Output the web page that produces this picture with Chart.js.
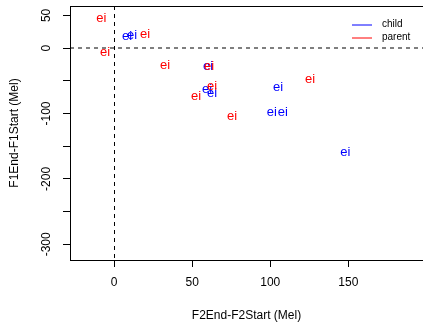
<!DOCTYPE html>
<html>
<head>
<meta charset="utf-8">
<script src="https://cdn.jsdelivr.net/npm/chart.js@4/dist/chart.umd.min.js"></script>
<style>
  body { margin: 0; background: #fff; }
  canvas { display: block; }
</style>
</head>
<body>
<canvas id="plot" width="423" height="323"></canvas>
<script>
// values (Mel)
var childX = [8.3, 11.5, 60.2, 59.5, 62.7, 105, 101, 108, 148];
var childY = [17.5, 19, -28.5, -63.7, -70, -60.6, -99, -99, -160];
var parentX = [-8.2, -5.8, 19.8, 32.6, 60.8, 62.7, 52.5, 75.5, 125.5];
var parentY = [46, -6.5, 21.6, -27, -28.5, -59, -74.5, -105, -48.4];
var pointText = "ei";

var seriesNames = ["child", "parent"];
var seriesColors = ["#0000ff", "#ff0000"];

var xTicks = [0, 50, 100, 150];
var yTicks = [-300, -250, -200, -150, -100, -50, 0, 50];
var yTickLabels = ["-300", "", "-200", "", "-100", "", "0", "50"];
var xRange = [-28.2, 197.8];
var yRange = [-324, 64.4];
var refX = [0];
var refY = [0];

function pts(xs, ys) {
    return xs.map(function (x, i) { return { x: x, y: ys[i] }; });
}

// writes the "ei" label at every point, dashed reference lines, top box line and legend
var textMarks = {
    id: "textMarks",
    beforeDatasetsDraw: function (chart) {
        var c = chart.ctx, a = chart.chartArea;
        var xs = chart.scales.x, ys = chart.scales.y;
        c.save();
        c.strokeStyle = "#000";
        c.lineWidth = 1;
        c.beginPath();
        c.moveTo(a.left, Math.round(a.top) + 0.5);
        c.lineTo(a.right, Math.round(a.top) + 0.5);
        c.stroke();
        c.setLineDash([4, 4]);
        refX.forEach(function (v) {
            var px = Math.round(xs.getPixelForValue(v)) + 0.5;
            c.beginPath();
            c.moveTo(px, a.top);
            c.lineTo(px, a.bottom);
            c.stroke();
        });
        refY.forEach(function (v) {
            var py = Math.round(ys.getPixelForValue(v));
            c.beginPath();
            c.moveTo(a.left, py);
            c.lineTo(a.right, py);
            c.stroke();
        });
        c.restore();
    },
    afterDatasetsDraw: function (chart) {
        var c = chart.ctx;
        c.save();
        c.font = "13px 'Liberation Sans', Arial, sans-serif";
        c.textAlign = "center";
        c.textBaseline = "middle";
        chart.data.datasets.forEach(function (ds, i) {
            c.fillStyle = ds.borderColor;
            chart.getDatasetMeta(i).data.forEach(function (el) {
                c.fillText(pointText, el.x, el.y);
            });
        });
        // legend
        c.font = "10px 'Liberation Sans', Arial, sans-serif";
        c.textAlign = "left";
        chart.data.datasets.forEach(function (ds, i) {
            var y = 25 + i * 13;
            c.strokeStyle = ds.borderColor;
            c.lineWidth = 1;
            c.beginPath();
            c.moveTo(352, y);
            c.lineTo(372, y);
            c.stroke();
            c.fillStyle = "#000";
            c.fillText(ds.label, 382, y - 0.5);
        });
        c.restore();
    }
};

var ctx = document.getElementById("plot").getContext("2d");
var myChart = new Chart(ctx, {
    type: "scatter",
    data: {
        datasets: [
            {
                label: seriesNames[0],
                data: pts(childX, childY),
                borderColor: seriesColors[0],
                backgroundColor: seriesColors[0],
                pointRadius: 0,
            },
            {
                label: seriesNames[1],
                data: pts(parentX, parentY),
                borderColor: seriesColors[1],
                backgroundColor: seriesColors[1],
                pointRadius: 0,
            },
        ],
    },
    options: {
        responsive: false,
        animation: false,
        layout: { padding: { top: 6, right: 0, left: 0, bottom: 0 } },
        plugins: {
            legend: { display: false },
            tooltip: { enabled: false },
        },
        scales: {
            x: {
                type: "linear",
                min: xRange[0],
                max: xRange[1],
                afterBuildTicks: function (scale) {
                    scale.ticks = xTicks.map(function (v) { return { value: v }; });
                },
                afterFit: function (scale) {
                    scale.height = 63;
                    scale.paddingLeft = 0;
                    scale.paddingRight = 0;
                },
                grid: { drawOnChartArea: false, drawTicks: true, tickLength: 7, tickColor: "#000" },
                border: { display: true, color: "#000", width: 1 },
                ticks: {
                    padding: 8,
                    color: "#000",
                    font: { family: "'Liberation Sans', Arial, sans-serif", size: 12 },
                    maxRotation: 0,
                    autoSkip: false,
                },
                title: {
                    display: true,
                    text: "F2End-F2Start (Mel)",
                    color: "#000",
                    padding: { top: 0, bottom: 0 },
                    font: { family: "'Liberation Sans', Arial, sans-serif", size: 12 },
                },
            },
            y: {
                type: "linear",
                min: yRange[0],
                max: yRange[1],
                afterBuildTicks: function (scale) {
                    scale.ticks = yTicks.map(function (v) { return { value: v }; });
                },
                afterFit: function (scale) {
                    scale.width = 70;
                    scale.paddingTop = 0;
                    scale.paddingBottom = 0;
                },
                grid: { drawOnChartArea: false, drawTicks: true, tickLength: 7, tickColor: "#000" },
                border: { display: true, color: "#000", width: 1 },
                ticks: {
                    padding: 4,
                    color: "#000",
                    crossAlign: "center",
                    minRotation: 90,
                    maxRotation: 90,
                    autoSkip: false,
                    font: { family: "'Liberation Sans', Arial, sans-serif", size: 12 },
                    callback: function (v) {
                        var k = yTicks.indexOf(v);
                        return k >= 0 ? yTickLabels[k] : "";
                    },
                },
                title: {
                    display: true,
                    text: "F1End-F1Start (Mel)",
                    color: "#000",
                    padding: { top: 7, bottom: 0 },
                    font: { family: "'Liberation Sans', Arial, sans-serif", size: 12 },
                },
            },
        },
    },
    plugins: [textMarks],
});
</script>
</body>
</html>
